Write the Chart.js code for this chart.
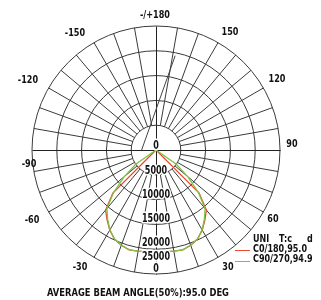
<!DOCTYPE html>
<html>
<head>
<title>Polar intensity diagram</title>
<style>
  html, body { margin: 0; padding: 0; background: #fff; }
</style>
</head>
<body>
<canvas id="polar" width="321" height="300"></canvas>

<script src="https://cdn.jsdelivr.net/npm/chart.js@4.4.0/dist/chart.umd.min.js"></script>
<script>
// gamma of one half plane: 0 = straight down, 180 = straight up (step 5 deg)
const gammaHalf = [0, 5, 10, 15, 20, 25, 30, 35, 40, 45, 50, 55, 60, 65, 70, 75, 80, 85, 90,
                   95, 100, 105, 110, 115, 120, 125, 130, 135, 140, 145, 150, 155, 160, 165, 170, 175, 180];
// luminous intensity, cd
const c0Half  = [20500, 20550, 20700, 20850, 20450, 19800, 18650, 17200, 15800, 12300, 0, 0, 0, 0, 0, 0, 0, 0, 0,
                 0, 0, 0, 0, 0, 0, 0, 0, 0, 0, 0, 0, 0, 0, 0, 0, 0, 0];
const c90Half = [20500, 20550, 20700, 20850, 20450, 19800, 18600, 17000, 15400, 12100, 8400, 5000, 0, 0, 0, 0, 0, 0, 0,
                 0, 0, 0, 0, 0, 0, 0, 0, 0, 0, 0, 0, 0, 0, 0, 0, 0, 0];

const angleTicks = ['-/+180', '150', '120', '90', '60', '30', '0', '-30', '-60', '-90', '-120', '-150'];
const valueTicks = ['0', '5000', '10000', '15000', '20000', '25000', '0'];
const legendNames = ['C0/180,95.0', 'C90/270,94.9'];
const titleText = 'AVERAGE BEAM ANGLE(50%):95.0 DEG';

// clockwise from the top: 180, 175 ... 0 ... -175
const gammaLabels = [];
for (let g = 180; g > -180; g -= 5) gammaLabels.push(g);

function fullSeries(half) {
    return gammaLabels.map(g => half[gammaHalf.indexOf(Math.abs(g))]);
}

const FONT = "'Liberation Sans Narrow', 'DejaVu Sans Condensed', 'Roboto Condensed', 'Arial Narrow', sans-serif";

// where the point of gamma / value sits on the radial scale
function polarPos(scale, gamma, value) {
    const a = (180 - gamma) * Math.PI / 180;
    const d = scale.getDistanceFromCenterForValue(value);
    return { x: scale.xCenter + Math.sin(a) * d, y: scale.yCenter - Math.cos(a) * d };
}

// condensed text: squeeze horizontally by sx
function squeezeText(c, t, x, y, sx, halo) {
    c.save();
    c.translate(x, y);
    c.scale(sx, 1);
    if (halo) {
        c.strokeStyle = '#fff'; c.lineWidth = 3; c.lineJoin = 'round';
        c.strokeText(t, 0, 0);
    }
    c.fillText(t, 0, 0);
    c.restore();
}

const polarDecor = {
    id: 'polarDecor',
    beforeDatasetsDraw(chart) {
        const s = chart.scales.r;
        const c = chart.ctx;
        c.save();
        c.lineWidth = 1;
        c.strokeStyle = '#3a3a3a';
        for (let g = -170; g <= 180; g += 10) {
            if (g % 90 === 0) continue;
            const p1 = polarPos(s, g, 5000), p2 = polarPos(s, g, 25000);
            c.beginPath(); c.moveTo(p1.x, p1.y); c.lineTo(p2.x, p2.y); c.stroke();
        }
        // main axes
        c.strokeStyle = '#222';
        [[0, 180], [90, -90]].forEach(([ga, gb]) => {
            const p1 = polarPos(s, ga, 25000), p2 = polarPos(s, gb, 25000);
            c.beginPath(); c.moveTo(Math.round(p1.x) + 0.5, Math.round(p1.y) + 0.5);
            c.lineTo(Math.round(p2.x) + 0.5, Math.round(p2.y) + 0.5); c.stroke();
        });
        // stray line of the original plot
        c.strokeStyle = '#444';
        const q1 = polarPos(s, -90, 2900), q2 = polarPos(s, 168.5, 19400);
        c.beginPath(); c.moveTo(q1.x, q1.y); c.lineTo(q2.x, q2.y); c.stroke();
        c.restore();
    },
    afterDatasetsDraw(chart) {
        const s = chart.scales.r;
        const c = chart.ctx;
        const cx = s.xCenter, cy = s.yCenter;
        c.save();
        c.textAlign = 'center';
        c.textBaseline = 'middle';
        c.fillStyle = '#111';

        // value labels down the 0 axis
        const valueDy = [-4, 21, 45, 69, 93, 107, 119];
        c.font = 'bold 12px ' + FONT;
        const sxVal = 28 / c.measureText('10000').width;
        valueTicks.forEach((t, i) => squeezeText(c, t, cx, cy + valueDy[i], sxVal, true));

        // angle labels
        const angleOff = [[-1, -135], [74, -118], [121, -71], [136, -6], [117, 69], [72, 117],
                          null, [-76, 117], [-124, 70], [-127, 14], [-128, -70], [-81, -117]];
        c.font = 'bold 11px ' + FONT;
        const sxAng = 30 / c.measureText('-/+180').width;
        angleTicks.forEach((t, i) => {
            if (!angleOff[i]) return;
            squeezeText(c, t, cx + angleOff[i][0], cy + angleOff[i][1], sxAng, false);
        });

        // legend
        c.textAlign = 'left';
        c.font = 'bold 10px ' + FONT;
        const sxLeg = 54 / c.measureText(legendNames[0]).width;
        squeezeText(c, 'UNI', 253, 239, sxLeg);
        squeezeText(c, 'T:c', 279, 239, sxLeg);
        squeezeText(c, 'd', 307, 239, sxLeg);
        const ds = chart.data.datasets;
        [ds[1], ds[0]].forEach((d, i) => {
            const y = 250 + i * 10.7;
            c.strokeStyle = d.borderColor; c.lineWidth = 1;
            c.beginPath(); c.moveTo(235, Math.round(y) + 0.5); c.lineTo(250, Math.round(y) + 0.5); c.stroke();
            squeezeText(c, legendNames[i], 253, y - 1, sxLeg);
        });

        // title
        c.textAlign = 'center';
        c.font = 'bold 11px ' + FONT;
        const sxTitle = 182 / c.measureText(titleText).width;
        squeezeText(c, titleText, 138, 293, sxTitle);
        c.restore();
    }
};

new Chart(document.getElementById('polar'), {
    type: 'radar',
    data: {
        labels: gammaLabels,
        datasets: [
            { label: legendNames[1], data: fullSeries(c90Half), borderColor: '#7cc243', borderWidth: 1.3,
              pointRadius: 0, fill: false, order: 0 },
            { label: legendNames[0], data: fullSeries(c0Half), borderColor: '#e8492f', borderWidth: 1.3,
              pointRadius: 0, fill: false, order: 1 }
        ]
    },
    options: {
        responsive: false,
        animation: false,
        devicePixelRatio: 1,
        layout: { padding: { left: 32, right: 41, top: 26, bottom: 26 } },
        plugins: { legend: { display: false }, title: { display: false }, tooltip: { enabled: false } },
        scales: {
            r: {
                min: 0, max: 25000,
                ticks: { display: false, stepSize: 5000 },
                grid: { circular: true, color: '#3a3a3a', lineWidth: 1 },
                angleLines: { display: false },
                pointLabels: { display: false }
            }
        }
    },
    plugins: [polarDecor]
});
</script>
</body>
</html>
